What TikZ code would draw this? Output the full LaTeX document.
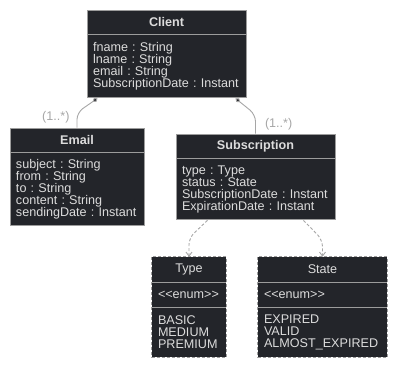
\documentclass[tikz,border=0pt]{standalone}
\usepackage{fontspec}
\setmainfont{Liberation Sans}
\usetikzlibrary{positioning,arrows.meta}

\definecolor{boxfill}{HTML}{23252A}
\definecolor{boxline}{HTML}{9C9C9C}
\definecolor{boxtext}{HTML}{DCDCDC}
\definecolor{linkgray}{HTML}{A6A6A6}

\frenchspacing

\begin{document}
\begin{tikzpicture}[
    x=1pt, y=1pt,
    every node/.style={font=\fontsize{12.6}{12}\selectfont, text=boxtext},
    head/.style={draw=boxline, fill=boxfill, line width=0.9pt, inner sep=0pt,
        minimum height=24pt, font=\fontsize{12.6}{12}\selectfont\bfseries},
    body/.style={draw=boxline, fill=boxfill, line width=0.9pt, inner xsep=6pt,
        inner ysep=0pt, align=left},
    enumhead/.style={fill=boxfill, inner sep=0pt, minimum height=25pt},
    enumpart/.style={fill=boxfill, inner xsep=6pt, inner ysep=0pt, align=left},
    mult/.style={text=linkgray},
    assoc/.style={draw=linkgray, line width=0.9pt, rounded corners=7pt,
        {Diamond[length=6pt,width=4.5pt,fill=boxfill]}-},
    dep/.style={draw=linkgray, line width=0.9pt, dash pattern=on 3pt off 2pt,
        rounded corners=7pt, -{Straight Barb[length=4pt,width=6pt]}}
]
\useasboundingbox (0,0) rectangle (397,-366);

% Client
\node[head, minimum width=159pt] (client) at (166.5,-22) {Client};
\node[body, text width=147pt, minimum height=63pt, below=0pt of client] (client-body)
    {fname : String\\lname : String\\email : String\\SubscriptionDate : Instant};

% Email
\node[head, minimum width=134pt] (email) at (77,-140) {Email};
\node[body, text width=122pt, minimum height=73pt, below=0pt of email] (email-body)
    {subject : String\\from : String\\to : String\\content : String\\sendingDate : Instant};

% Subscription
\node[head, minimum width=159pt] (sub) at (255.5,-146) {Subscription};
\node[body, text width=147pt, minimum height=61pt, below=0pt of sub] (sub-body)
    {type : Type\\status : State\\SubscriptionDate : Instant\\ExpirationDate : Instant};

% Enums
\node[enumhead, minimum width=74pt] (type) at (189,-269.5) {Type};
\node[enumpart, text width=62pt, minimum height=25pt, below=0pt of type] (type-stereo) {<{}<enum>{}>};
\node[enumpart, text width=62pt, minimum height=49pt, below=0pt of type-stereo] (type-body)
    {BASIC\\MEDIUM\\PREMIUM};

\node[enumhead, minimum width=129pt] (state) at (322.5,-269.5) {State};
\node[enumpart, text width=117pt, minimum height=25pt, below=0pt of state] (state-stereo) {<{}<enum>{}>};
\node[enumpart, text width=117pt, minimum height=49pt, below=0pt of state-stereo] (state-body)
    {EXPIRED\\VALID\\ALMOST\_EXPIRED};

\foreach \e in {type, state} {
    \draw[boxline, line width=0.9pt] (\e-stereo.north west) -- (\e-stereo.north east);
    \draw[boxline, line width=0.9pt] (\e-body.north west) -- (\e-body.north east);
    \draw[boxline, line width=0.9pt, dash pattern=on 3pt off 2pt]
        (\e.north west) rectangle (\e-body.south east);
}

% Associations
\coordinate (client-l) at ([xshift=11pt]client-body.south west);
\coordinate (client-r) at ([xshift=-11pt]client-body.south east);
\draw[assoc] (client-l) -- ([yshift=15pt]email.north) -- (email.north);
\draw[assoc] (client-r) -- ([yshift=19pt]sub.north) -- (sub.north);
\node[mult, anchor=east] (email-mult) at ([xshift=-4pt,yshift=10pt]email.north) {(1..*)};
\node[mult, anchor=west] (sub-mult) at ([xshift=6pt,yshift=9pt]sub.north) {(1..*)};

% Enum usage
\coordinate (sub-l) at ([xshift=32pt]sub-body.south west);
\coordinate (sub-r) at ([xshift=-32pt]sub-body.south east);
\draw[dep] (sub-l) -- ([yshift=19pt]type.north) -- (type.north);
\draw[dep] (sub-r) -- ([yshift=17pt]state.north) -- (state.north);

\end{tikzpicture}
\end{document}
